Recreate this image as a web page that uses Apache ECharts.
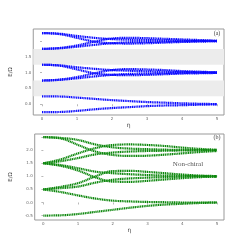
<!DOCTYPE html>
<html><head><meta charset="utf-8">
<script src="https://cdn.jsdelivr.net/npm/echarts@6/dist/echarts.min.js"></script>
<style>html,body{margin:0;padding:0;background:#fff}#c{width:249px;height:247px}</style>
</head><body><div id="c"></div>
<script>
// ---- data ----
const eta = [0, 0.5, 1, 1.5, 2, 2.5, 3, 3.5, 4, 4.5, 5];
const xTicks = [0, 1, 2, 3, 4, 5];
const yTicksA = [0, 0.5, 1, 1.5, 2];
const yTicksB = [-0.5, 0, 0.5, 1, 1.5, 2, 2.5];
const gapBandsA = [[0.25, 0.75], [1.25, 1.75]];

// (a) chiral
const chiral0Up = [0.25, 0.245, 0.21, 0.17, 0.13, 0.10, 0.07, 0.05, 0.03, 0.015, 0.005];
const chiral0Dn = [-0.25, -0.245, -0.21, -0.16, -0.12, -0.09, -0.06, -0.04, -0.03, -0.015, -0.005];
const chiral1A = [1.25, 1.22, 1.10, 0.98, 0.93, 0.92, 0.93, 0.95, 0.97, 0.98, 0.99];
const chiral1B = [1.25, 1.23, 1.17, 1.12, 1.08, 1.06, 1.04, 1.03, 1.02, 1.01, 1.00];
const chiral1C = [0.75, 0.78, 0.86, 0.98, 1.08, 1.11, 1.10, 1.08, 1.05, 1.03, 1.01];
const chiral1D = [0.75, 0.77, 0.82, 0.88, 0.93, 0.96, 0.97, 0.98, 0.99, 1.00, 1.00];
const chiral2A = [2.25, 2.22, 2.10, 1.98, 1.93, 1.92, 1.93, 1.95, 1.97, 1.98, 1.99];
const chiral2B = [2.25, 2.23, 2.16, 2.10, 2.06, 2.04, 2.03, 2.02, 2.01, 2.005, 2.00];
const chiral2C = [1.75, 1.78, 1.86, 1.98, 2.08, 2.10, 2.09, 2.07, 2.05, 2.03, 2.01];
const chiral2D = [1.75, 1.77, 1.82, 1.88, 1.93, 1.96, 1.97, 1.98, 1.99, 2.00, 2.00];

// (b) non-chiral
const nonchiral0A = [-0.5, -0.49, -0.44, -0.36, -0.28, -0.20, -0.13, -0.08, -0.05, -0.02, 0.0];
const nonchiral0B = [0.5, 0.40, 0.27, 0.15, 0.07, 0.04, 0.02, 0.01, 0.0, 0.0, 0.0];
const nonchiral1A = [0.5, 0.60, 0.74, 1.00, 1.20, 1.21, 1.17, 1.12, 1.07, 1.03, 1.01];
const nonchiral1B = [0.5, 0.55, 0.61, 0.76, 0.87, 0.92, 0.95, 0.97, 0.99, 1.00, 1.00];
const nonchiral1C = [1.5, 1.40, 1.22, 0.96, 0.80, 0.79, 0.83, 0.88, 0.93, 0.97, 0.99];
const nonchiral1D = [1.5, 1.43, 1.31, 1.18, 1.12, 1.08, 1.05, 1.03, 1.02, 1.01, 1.00];
const nonchiral2A = [1.5, 1.65, 1.88, 2.08, 2.20, 2.22, 2.20, 2.16, 2.10, 2.05, 2.02];
const nonchiral2B = [1.5, 1.58, 1.70, 1.84, 1.91, 1.95, 1.97, 1.98, 1.99, 2.00, 2.00];
const nonchiral2C = [2.5, 2.45, 2.20, 1.95, 1.82, 1.78, 1.79, 1.83, 1.88, 1.93, 1.97];
const nonchiral2D = [2.5, 2.47, 2.39, 2.22, 2.11, 2.06, 2.04, 2.02, 2.01, 2.00, 2.00];

const chiralLines = [chiral0Up, chiral0Dn, chiral1A, chiral1B, chiral1C, chiral1D, chiral2A, chiral2B, chiral2C, chiral2D];
const nonchiralLines = [nonchiral0A, nonchiral0B, nonchiral1A, nonchiral1B, nonchiral1C, nonchiral1D, nonchiral2A, nonchiral2B, nonchiral2C, nonchiral2D];

// ---- chart ----
const BLUE = '#0a0aff', GREEN = '#0c870c';
const tickFont = {fontSize: 4, color: '#666', fontFamily: 'DejaVu Sans'};

function mkX(idx) {
  return {
    gridIndex: idx, type: 'value', min: -0.25, max: 5.2,
    name: 'η', nameLocation: 'middle', nameGap: 7,
    nameTextStyle: {fontSize: 6, color: '#444', fontFamily: 'DejaVu Sans'},
    axisLine: {show: false}, splitLine: {show: false},
    axisTick: {show: true, length: 2, lineStyle: {color: '#888', width: 0.6}, customValues: xTicks},
    axisLabel: Object.assign({margin: 2, customValues: xTicks, formatter: v => String(v)}, tickFont)
  };
}
function mkY(idx, min, max, ticks, hideTop) {
  return {
    gridIndex: idx, type: 'value', min: min, max: max,
    name: 'E/Ω', nameLocation: 'middle', nameGap: 16, nameRotate: 90,
    nameTextStyle: {fontSize: 5.5, color: '#444', fontFamily: 'DejaVu Sans'},
    axisLine: {show: false}, splitLine: {show: false},
    axisTick: {show: true, length: 2, lineStyle: {color: '#888', width: 0.6}, customValues: ticks},
    axisLabel: Object.assign({margin: 2, customValues: ticks,
      formatter: v => (Math.abs(v - hideTop) < 1e-9 ? '' : v.toFixed(1))}, tickFont)
  };
}

const series = [];
series.push({
  type: 'line', xAxisIndex: 0, yAxisIndex: 0, data: [], silent: true,
  markArea: {silent: true, itemStyle: {color: '#ececec'},
    data: gapBandsA.map(b => [{yAxis: b[0]}, {yAxis: b[1]}])}
});
function lineStyle(color) {
  return {color: color, width: 2.2, type: [1.2, 0.6], opacity: 1};
}
chiralLines.forEach(arr => series.push({
  type: 'line', xAxisIndex: 0, yAxisIndex: 0, smooth: 0.4, showSymbol: false, silent: true,
  data: eta.map((x, i) => [x, arr[i]]), lineStyle: lineStyle(BLUE)
}));
nonchiralLines.forEach(arr => series.push({
  type: 'line', xAxisIndex: 1, yAxisIndex: 1, smooth: 0.4, showSymbol: false, silent: true,
  data: eta.map((x, i) => [x, arr[i]]), lineStyle: lineStyle(GREEN)
}));

const chart = echarts.init(document.getElementById('c'), null, {renderer: 'canvas'});
chart.setOption({
  animation: false,
  backgroundColor: '#fff',
  grid: [
    {left: 31, right: 25, top: 29, height: 86, show: true, borderColor: '#999', borderWidth: 1, backgroundColor: 'transparent'},
    {left: 31, right: 25, top: 134, height: 86, show: true, borderColor: '#999', borderWidth: 1, backgroundColor: 'transparent'}
  ],
  xAxis: [mkX(0), mkX(1)],
  yAxis: [mkY(0, -0.34, 2.38, yTicksA, 2), mkY(1, -0.67, 2.62, yTicksB, 2.5)],
  series: series,
  graphic: [
    {type: 'text', x: 217, y: 33, style: {text: '(a)', font: '6px "Liberation Serif"', fill: '#444', align: 'center', verticalAlign: 'middle'}},
    {type: 'text', x: 182, y: 57, style: {text: 'Chiral', font: '7px "Liberation Serif"', fill: '#444', align: 'center', verticalAlign: 'middle'}},
    {type: 'text', x: 217, y: 137, style: {text: '(b)', font: '6px "Liberation Serif"', fill: '#444', align: 'center', verticalAlign: 'middle'}},
    {type: 'text', x: 188, y: 164, style: {text: 'Non-chiral', font: '7px "Liberation Serif"', fill: '#555', align: 'center', verticalAlign: 'middle'}}
  ]
});
</script>
</body></html>
